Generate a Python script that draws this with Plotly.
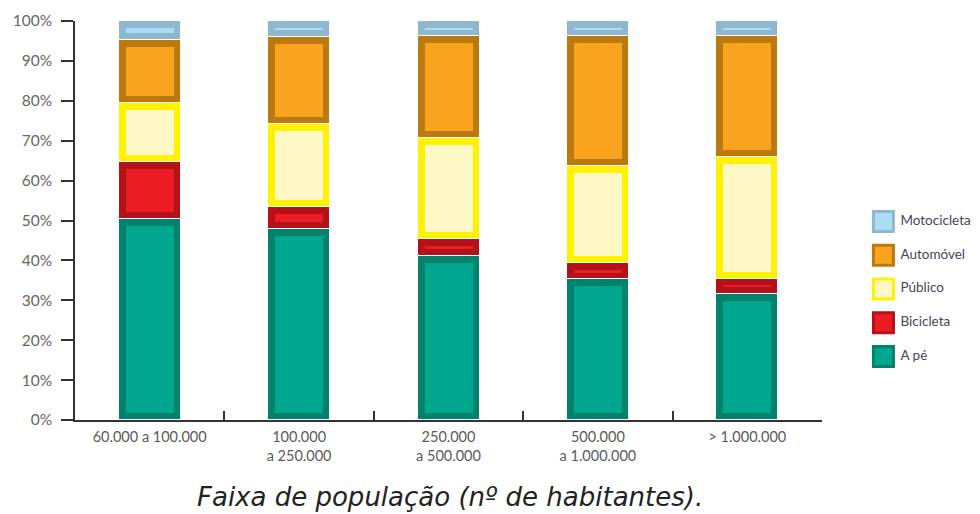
import numpy as np
import plotly.graph_objects as go

categories = ["60.000 a 100.000", "100.000<br>a 250.000", "250.000<br>a 500.000",
              "500.000<br>a 1.000.000", "> 1.000.000"]
series_names = ["A pé", "Bicicleta", "Público", "Automóvel", "Motocicleta"]
a_pe = [50.3, 47.9, 41.2, 35.3, 31.6]
bicicleta = [14.4, 5.6, 4.2, 4.0, 3.8]
publico = [14.7, 20.7, 25.2, 24.4, 30.4]
automovel = [15.8, 21.9, 25.6, 32.5, 30.4]
motocicleta = [4.8, 3.9, 3.8, 3.8, 3.8]

fill_colors = ["#00a78f", "#ec1c24", "#fef8c6", "#f9a31f", "#a9ddf5"]
border_colors = ["#00826c", "#b3121b", "#fff200", "#bb7a10", "#8fb8cf"]

series = [a_pe, bicicleta, publico, automovel, motocicleta]

# page has an 8px body margin, so the figure is shrunk by that offset
OFF = 8
W, H = 980 - OFF, 514 - OFF
PL, PR, PT, PB = 75, 822, 21, 420          # plot area in page pixels
ML, MT = PL - OFF, PT - OFF
MB = H - (PB - OFF)
MR = 0
plot_w = W - ML - MR
plot_h = H - MT - MB
main_w = PR - PL
dom_main = main_w / plot_w

outer_w = 0.415
border_px = 7
cat_px = main_w / len(categories)
inner_w = outer_w - 2 * border_px / cat_px
inset = border_px / (plot_h / 100.0)

fig = go.Figure()
vals = np.array(series, dtype=float)
bases = np.vstack([np.zeros(vals.shape[1]), np.cumsum(vals, axis=0)[:-1]])

for i, name in enumerate(series_names):
    fig.add_trace(go.Bar(
        x=categories, y=vals[i], base=bases[i], width=outer_w,
        marker=dict(color=border_colors[i], line=dict(color="white", width=1)),
        name=name, showlegend=False, hoverinfo="skip"))
    fig.add_trace(go.Bar(
        x=categories, y=np.maximum(vals[i] - 2 * inset, 0), base=bases[i] + inset,
        width=inner_w, marker=dict(color=fill_colors[i], line=dict(width=0)),
        name=name, showlegend=False))

# legend drawn as a small scatter panel
idx = list(range(len(series_names)))
fig.add_trace(go.Scatter(
    x=[0] * len(series_names), y=idx, mode="markers",
    marker=dict(symbol="square", size=20, color=fill_colors,
                line=dict(color=border_colors, width=3)),
    xaxis="x2", yaxis="y2", showlegend=False, hoverinfo="skip", cliponaxis=False))
fig.add_trace(go.Scatter(
    x=[0.125] * len(series_names), y=idx, mode="text",
    text=series_names, textposition="middle right",
    textfont=dict(size=13.5, color="#4b4257", family="Lato, Noto Sans, sans-serif"),
    xaxis="x2", yaxis="y2", showlegend=False, hoverinfo="skip", cliponaxis=False))

leg_left = (844 - PL) / plot_w
fig.update_layout(
    width=W, height=H,
    margin=dict(l=ML, r=MR, t=MT, b=MB),
    paper_bgcolor="white", plot_bgcolor="white",
    barmode="overlay", bargap=0,
    font=dict(family="Lato, Noto Sans, sans-serif", color="#555555"),
    showlegend=False,
    xaxis=dict(domain=[0, dom_main], type="category", range=[-0.5, 4.5],
               showline=True, linecolor="#333333", linewidth=1.5,
               ticks="inside", tickson="boundaries", ticklen=9, tickcolor="#333333",
               tickwidth=1.5, showgrid=False, zeroline=False,
               tickfont=dict(size=14.5, color="#5a5a5a"), ticklabelstandoff=3),
    yaxis=dict(range=[0, 100], dtick=10, ticksuffix="%", showline=True,
               linecolor="#333333", linewidth=1.5, ticks="outside", ticklen=12,
               tickcolor="#333333", tickwidth=1.5, showgrid=False, zeroline=False,
               tickfont=dict(size=15.5, color="#666666"), ticklabelstandoff=6),
    xaxis2=dict(domain=[leg_left, 1], range=[-0.29, 0.71], visible=False,
                anchor="y2", fixedrange=True),
    yaxis2=dict(domain=[0, 1], range=[-1.88, 9.94], visible=False,
                anchor="x2", fixedrange=True),
    annotations=[dict(
        text="<i>Faixa de população (nº de habitantes).</i>",
        xref="paper", yref="paper", x=(450 - PL) / plot_w, y=-(497 - PB) / plot_h,
        xanchor="center", yanchor="middle", showarrow=False,
        font=dict(size=26, color="#222222", family="DejaVu Sans, sans-serif"))],
)

fig.write_html("out.html")
